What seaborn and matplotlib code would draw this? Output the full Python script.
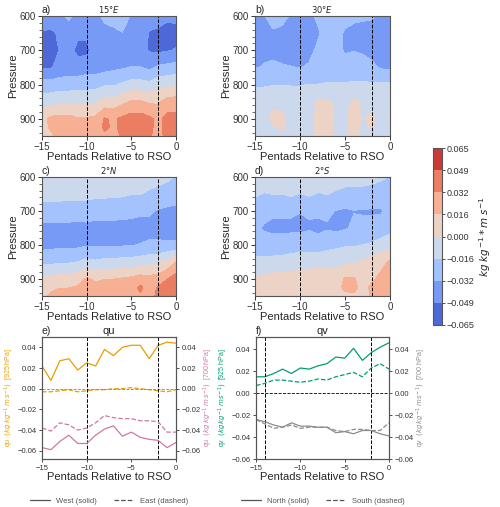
import numpy as np
import matplotlib
matplotlib.use('Agg')
import matplotlib.pyplot as plt
import seaborn as sns
from matplotlib.ticker import MultipleLocator
from matplotlib.lines import Line2D

# ---- data ----
pentads = np.arange(-15, 1)
pressure = [600, 650, 700, 750, 800, 850, 900, 925, 950]

# moisture flux cross sections, units of 1e-3 kg kg-1 m s-1 (rows = pressure, cols = pentads -15..0)
flux_15E = [
    [-40, -38, -36, -30, -36, -38, -36, -30, -26, -25, -34, -38, -40, -42, -46, -46],
    [-50, -52, -46, -40, -46, -46, -40, -36, -36, -33, -38, -40, -50, -52, -54, -52],
    [-52, -54, -48, -44, -52, -52, -42, -40, -40, -40, -40, -42, -50, -52, -50, -48],
    [-50, -50, -44, -42, -44, -40, -40, -38, -36, -34, -32, -32, -36, -30, -28, -26],
    [-26, -26, -24, -24, -22, -22, -22, -18, -18, -14, -10, -10, -12, -6, -4, -2],
    [-8, -6, -4, -4, -4, -4, -2, 6, 6, 12, 18, 18, 14, 14, 22, 24],
    [10, 20, 22, 22, 18, 18, 20, 34, 30, 36, 40, 40, 36, 28, 38, 38],
    [12, 18, 22, 22, 20, 18, 20, 36, 30, 36, 40, 38, 36, 28, 38, 38],
    [10, 14, 20, 22, 20, 16, 20, 28, 28, 34, 38, 36, 34, 28, 36, 36],
]
flux_30E = [
    [-36, -33, -28, -28, -34, -38, -36, -30, -26, -26, -28, -30, -30, -31, -36, -38],
    [-38, -36, -34, -36, -38, -40, -38, -34, -28, -28, -34, -36, -38, -38, -38, -40],
    [-36, -34, -36, -38, -38, -38, -36, -30, -28, -28, -34, -33, -34, -36, -38, -40],
    [-33, -32, -30, -31, -32, -33, -31, -26, -26, -26, -26, -26, -28, -30, -34, -36],
    [-18, -18, -17, -17, -17, -17, -16, -16, -15, -15, -15, -14, -14, -14, -14, -14],
    [-8, -6, -3, -4, -8, -8, -6, 2, 2, -2, -4, 3, -2, -4, -6, -2],
    [-6, -4, 3, 3, -4, -6, -4, 3, 4, -1, -2, 4, -1, 3, -6, 1],
    [-7, -5, -1, 2, -5, -6, -4, 3, 3, -2, -2, 3, -2, 1, -6, -2],
    [-8, -6, -4, -4, -6, -6, -4, 3, 3, -2, -2, 3, -2, -3, -6, -4],
]
flux_2N = [
    [-6, 1, -4, -6, 1, -6, -7, -8, -8, -8, -9, -10, -11, -12, -14, -17],
    [-12, -12, -12, -13, -12, -13, -13, -13, -14, -14, -16, -16, -18, -20, -22, -26],
    [-22, -22, -22, -22, -24, -22, -26, -26, -26, -27, -28, -30, -30, -34, -36, -36],
    [-38, -38, -38, -38, -38, -38, -38, -38, -38, -38, -38, -38, -38, -38, -40, -40],
    [-38, -37, -36, -36, -36, -34, -35, -34, -34, -34, -33, -32, -30, -30, -30, -30],
    [-20, -20, -18, -18, -16, -12, -14, -12, -12, -10, -10, -8, -6, -4, 4, 16],
    [3, 6, 6, 8, 10, 18, 14, 16, 16, 18, 20, 24, 22, 24, 32, 40],
    [8, 14, 16, 16, 18, 20, 20, 20, 20, 22, 24, 36, 24, 34, 38, 42],
    [14, 18, 20, 20, 22, 22, 24, 24, 26, 26, 28, 30, 30, 34, 40, 42],
]
flux_2S = [
    [-8, -8, -8, -8, -8, -9, -9, -10, -10, -10, -11, -11, -12, -12, -14, -17],
    [-14, -17, -16, -16, -14, -17, -14, -17, -16, -18, -20, -20, -20, -22, -24, -26],
    [-26, -28, -30, -30, -30, -32, -31, -30, -30, -33, -35, -33, -34, -34, -34, -28],
    [-30, -34, -36, -36, -36, -36, -34, -36, -34, -36, -34, -30, -28, -28, -26, -22],
    [-26, -26, -26, -26, -24, -24, -24, -26, -22, -20, -18, -18, -16, -14, -10, -6],
    [-12, -12, -11, -10, -9, -6, -6, -5, -5, -4, -3, -2, 2, 8, 12, 18],
    [3, 4, 6, 6, 6, 8, 8, 8, 8, 8, 18, 18, 8, 14, 20, 24],
    [6, 6, 8, 8, 8, 8, 8, 10, 10, 10, 20, 20, 10, 20, 24, 26],
    [6, 8, 8, 8, 8, 8, 8, 10, 10, 10, 12, 14, 10, 18, 22, 28],
]

# qu line series (kg kg-1 m s-1)
qu_west_925 = [0.022, 0.008, 0.027, 0.029, 0.018, 0.025, 0.022, 0.038, 0.032, 0.040, 0.042, 0.042, 0.029, 0.042, 0.045, 0.044]
qu_east_925 = [-0.003, -0.003, -0.002, -0.001, -0.003, -0.002, -0.001, -0.001, 0.000, 0.000, 0.001, 0.000, -0.001, -0.002, -0.003, -0.001]
qu_west_700 = [-0.057, -0.059, -0.051, -0.045, -0.053, -0.053, -0.045, -0.039, -0.036, -0.046, -0.042, -0.047, -0.049, -0.050, -0.057, -0.052]
qu_east_700 = [-0.038, -0.041, -0.033, -0.035, -0.040, -0.038, -0.033, -0.026, -0.028, -0.029, -0.029, -0.031, -0.031, -0.032, -0.042, -0.042]

# qv line series (kg kg-1 m s-1)
qv_north_925 = [0.015, 0.015, 0.018, 0.022, 0.018, 0.023, 0.022, 0.025, 0.027, 0.033, 0.032, 0.041, 0.030, 0.037, 0.042, 0.046]
qv_south_925 = [0.007, 0.009, 0.012, 0.012, 0.011, 0.010, 0.011, 0.013, 0.012, 0.015, 0.017, 0.019, 0.015, 0.023, 0.027, 0.022]
qv_north_700 = [-0.024, -0.026, -0.029, -0.031, -0.027, -0.030, -0.030, -0.031, -0.031, -0.036, -0.035, -0.037, -0.034, -0.034, -0.037, -0.039]
qv_south_700 = [-0.024, -0.028, -0.032, -0.031, -0.029, -0.032, -0.031, -0.031, -0.031, -0.034, -0.035, -0.033, -0.033, -0.034, -0.034, -0.027]

cbar_ticks = [-0.065, -0.04875, -0.0325, -0.01625, 0.0, 0.01625, 0.0325, 0.04875, 0.065]
cbar_labels = ['\u22120.065', '\u22120.049', '\u22120.032', '\u22120.016', '0.000',
               '0.016', '0.032', '0.049', '0.065']

# ---- style ----
sns.set_style('ticks')
plt.rcParams['font.family'] = ['Liberation Sans', 'DejaVu Sans']
plt.rcParams['axes.edgecolor'] = '#555555'
plt.rcParams['axes.linewidth'] = 0.8
plt.rcParams['xtick.color'] = '#333333'
plt.rcParams['ytick.color'] = '#333333'

orange = '#E69F00'
pink = '#CC79A7'
green = '#009E73'
grey = '#8c8c8c'

fig = plt.figure(figsize=(5, 5.07), dpi=100)
W, H = 500, 507


def px_axes(x0, x1, y0, y1):
    return fig.add_axes([x0 / W, 1 - y1 / H, (x1 - x0) / W, (y1 - y0) / H])


def draw_section(ax, field, tag, title, lines_at):
    cf = ax.contourf(pentads, pressure, np.array(field) / 1000.0, levels=cbar_ticks,
                     cmap='coolwarm')
    for x in lines_at:
        ax.axvline(x, color='k', ls='--', lw=0.7)
    ax.set_xlim(-15, 0)
    ax.set_ylim(950, 600)
    ax.set_xticks([-15, -10, -5, 0])
    ax.set_yticks([600, 700, 800, 900])
    ax.yaxis.set_minor_locator(MultipleLocator(20))
    ax.tick_params(labelsize=7, length=3, width=0.7, pad=1.5)
    ax.tick_params(which='minor', length=2, width=0.5)
    ax.set_xlabel('Pentads Relative to RSO', fontsize=8, labelpad=0)
    ax.set_ylabel('Pressure', fontsize=8, labelpad=1)
    ax.set_title(title, fontsize=6, pad=2)
    ax.text(0.0, 1.01, tag, transform=ax.transAxes, ha='left', va='bottom', fontsize=7.5)
    return cf


ax_a = px_axes(42, 176, 16, 136)
ax_b = px_axes(255, 390, 16, 136)
ax_c = px_axes(42, 176, 177, 296)
ax_d = px_axes(255, 390, 177, 296)

cf = draw_section(ax_a, flux_15E, 'a)', r'$15\degree E$', [-10, -2])
draw_section(ax_b, flux_30E, 'b)', r'$30\degree E$', [-10, -2])
draw_section(ax_c, flux_2N, 'c)', r'$2\degree N$', [-10, -2])
draw_section(ax_d, flux_2S, 'd)', r'$2\degree S$', [-10, -2])

cax = px_axes(433, 442, 148, 325)
cb = fig.colorbar(cf, cax=cax, ticks=cbar_ticks)
cb.ax.set_yticklabels(cbar_labels)
cb.ax.tick_params(labelsize=6.5, length=2.5, width=0.6, colors='#333333', pad=1)
cb.outline.set_edgecolor('#555555')
cb.set_label(r'$kg\ kg^{-1} * m\ s^{-1}$', fontsize=7.5, labelpad=2)

unit = r'$(kg\,kg^{-1}\,m\,s^{-1})$'


def style_line_axes(ax, ylim):
    ax.set_xlim(-15, 0)
    ax.set_ylim(*ylim)
    ax.set_xticks([-15, -10, -5, 0])
    ax.set_yticks([-0.06, -0.04, -0.02, 0.0, 0.02, 0.04])
    ax.tick_params(labelsize=5.5, length=2.5, width=0.6, pad=1.5)


# ---- panel e: qu ----
ax_e = px_axes(42, 176, 337, 459)
ax_e2 = ax_e.twinx()
ylim_e = (-0.068, 0.050)
sns.lineplot(x=pentads, y=qu_west_925, ax=ax_e, color=orange, lw=0.9)
sns.lineplot(x=pentads, y=qu_east_925, ax=ax_e, color=orange, lw=0.9, linestyle='--')
sns.lineplot(x=pentads, y=qu_west_700, ax=ax_e2, color=pink, lw=0.9)
sns.lineplot(x=pentads, y=qu_east_700, ax=ax_e2, color=pink, lw=0.9, linestyle='--')
ax_e.axhline(0, color='#888888', ls='--', lw=0.6)
for x in [-10, -2]:
    ax_e.axvline(x, color='k', ls='--', lw=0.7)
style_line_axes(ax_e, ylim_e)
style_line_axes(ax_e2, ylim_e)
ax_e.set_xlabel('Pentads Relative to RSO', fontsize=8, labelpad=0)
ax_e.set_ylabel('qu  ' + unit + '  [925 hPa]', color=orange, fontsize=5, labelpad=1)
ax_e2.set_ylabel('qu  ' + unit + '  [700 hPa]', color=pink, fontsize=5, labelpad=1)
ax_e.set_title('qu', fontsize=8, pad=2)
ax_e.text(0.0, 1.01, 'e)', transform=ax_e.transAxes, ha='left', va='bottom', fontsize=7.5)

# ---- panel f: qv ----
ax_f = px_axes(256, 389, 337, 459)
ax_f2 = ax_f.twinx()
ylim_f = (-0.0452, 0.0513)
sns.lineplot(x=pentads, y=qv_north_925, ax=ax_f, color=green, lw=0.9)
sns.lineplot(x=pentads, y=qv_south_925, ax=ax_f, color=green, lw=0.9, linestyle='--')
sns.lineplot(x=pentads, y=qv_north_700, ax=ax_f2, color=grey, lw=0.9)
sns.lineplot(x=pentads, y=qv_south_700, ax=ax_f2, color=grey, lw=0.9, linestyle='--')
ax_f.axhline(0, color='k', ls='--', lw=0.6)
for x in [-14, -2]:
    ax_f.axvline(x, color='k', ls='--', lw=0.7)
style_line_axes(ax_f, ylim_f)
style_line_axes(ax_f2, ylim_f)
ax_f.set_xlabel('Pentads Relative to RSO', fontsize=8, labelpad=0)
ax_f.set_ylabel('qv  ' + unit + '  [925 hPa]', color=green, fontsize=5, labelpad=1)
ax_f2.set_ylabel('qv  ' + unit + '  [700 hPa]', color=grey, fontsize=5, labelpad=1)
ax_f.set_title('qv', fontsize=8, pad=2)
ax_f.text(0.0, 1.01, 'f)', transform=ax_f.transAxes, ha='left', va='bottom', fontsize=7.5)

# ---- legends ----
leg_kw = dict(loc='upper center', ncol=2, frameon=False, fontsize=5.5,
              handlelength=2.6, columnspacing=2.2, labelcolor='#555555')
ax_e.legend([Line2D([], [], color='#555555', lw=0.9),
             Line2D([], [], color='#555555', lw=0.9, ls='--')],
            ['West (solid)', 'East (dashed)'], bbox_to_anchor=(0.5, -0.26), **leg_kw)
ax_f.legend([Line2D([], [], color='#555555', lw=0.9),
             Line2D([], [], color='#555555', lw=0.9, ls='--')],
            ['North (solid)', 'South (dashed)'], bbox_to_anchor=(0.5, -0.26), **leg_kw)

fig.savefig('out.png', dpi=100)
